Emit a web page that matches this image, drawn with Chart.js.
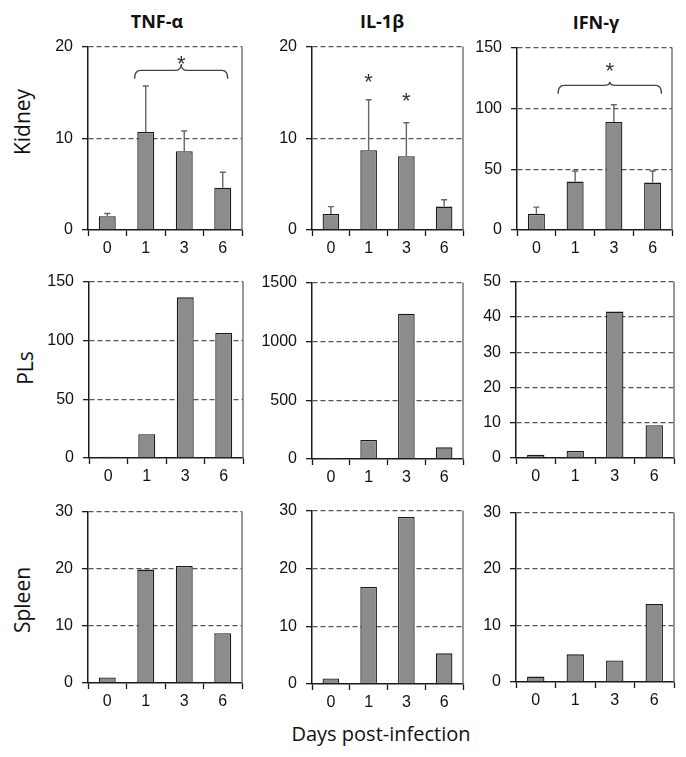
<!DOCTYPE html>
<html>
<head>
<meta charset="utf-8">
<title>Cytokine expression</title>
<script src="https://cdn.jsdelivr.net/npm/chart.js@4.4.1/dist/chart.umd.min.js"></script>
<style>
  html, body { margin: 0; padding: 0; background: #fff; }
  #page { position: relative; width: 686px; height: 757px; overflow: hidden; }
  .panel { position: absolute; }
  .lbl { position: absolute; transform: translate(-50%, -50%); white-space: nowrap;
         font-family: 'Open Sans', sans-serif; color: #111; }
  .col { font-weight: bold; font-size: 18px; }
  .row { font-size: 21px; transform: translate(-50%, -50%) rotate(-90deg); }
  .xt { font-size: 20px; }
</style>
</head>
<body>
<div id="page">
  <div class="lbl col" style="left:157px; top:21px;">TNF-α</div>
  <div class="lbl col" style="left:382px; top:21px;">IL-1β</div>
  <div class="lbl col" style="left:596px; top:22px;">IFN-γ</div>
  <div class="lbl row" style="left:22px; top:122px;">Kidney</div>
  <div class="lbl row" style="left:25px; top:368px;">PLs</div>
  <div class="lbl row" style="left:22px; top:600px;">Spleen</div>
  <div class="lbl xt" style="left:381px; top:733px;">Days post-infection</div>
</div>
<script>
// x categories
const days = ['0', '1', '3', '6'];

// Kidney (mean and upper error)
const kidneyTNF = [1.5, 10.7, 8.6, 4.6];
const kidneyTNFErr = [0.3, 5.0, 2.2, 1.7];
const kidneyIL1b = [1.75, 8.7, 8.05, 2.55];
const kidneyIL1bErr = [0.8, 5.5, 3.65, 0.75];
const kidneyIFNg = [13.3, 39.8, 88.9, 39.0];
const kidneyIFNgErr = [5.5, 8.7, 14.1, 9.5];

// PLs
const plsTNF = [1, 20.2, 136.6, 106.3];
const plsIL1b = [2, 162, 1236, 99];
const plsIFNg = [0.9, 2.0, 41.5, 9.3];

// Spleen
const spleenTNF = [0.96, 19.85, 20.5, 8.7];
const spleenIL1b = [0.94, 16.8, 28.9, 5.3];
const spleenIFNg = [0.96, 4.9, 3.8, 13.8];

// y axis ranges
const yMax = [20, 20, 150, 150, 1500, 50, 30, 30, 30];
const yStep = [10, 10, 50, 50, 500, 10, 10, 10, 10];

// significance marks (category index / value units)
const tnfBrace = { from: 0.71, to: 3.13, line: 17.4, end: 16.5, tip: 18.1 };
const tnfStars = [{ at: 1.92, value: 18.7 }];
const il1bStars = [{ at: 1, value: 16.7 }, { at: 2, value: 14.6 }];
const ifnBrace = { from: 0.56, to: 3.23, line: 119, end: 112, tip: 122 };
const ifnStars = [{ at: 1.9, value: 135 }];

// plot boxes: left, top, right, bottom
const panels = [
  { values: kidneyTNF, errs: kidneyTNFErr, box: [88, 40, 242, 230], brace: tnfBrace, stars: tnfStars },
  { values: kidneyIL1b, errs: kidneyIL1bErr, box: [312, 40, 463, 230], stars: il1bStars },
  { values: kidneyIFNg, errs: kidneyIFNgErr, box: [517, 41, 672, 230], brace: ifnBrace, stars: ifnStars },
  { values: plsTNF, box: [89, 275, 243, 458] },
  { values: plsIL1b, box: [312, 276, 463, 459] },
  { values: plsIFNg, box: [516, 275, 674, 458] },
  { values: spleenTNF, box: [88, 505, 242, 683] },
  { values: spleenIL1b, box: [312, 504, 463, 684] },
  { values: spleenIFNg, box: [516, 506, 674, 682] }
];

const PAD = { l: 60, t: 12, r: 10, b: 30 };
const tickFont = { family: "'Liberation Sans', Arial, sans-serif", size: 16 };

function makeAnnotPlugin(p) {
  return {
    id: 'annot',
    afterDatasetsDraw(chart) {
      const ctx = chart.ctx;
      const xs = chart.scales.x, ys = chart.scales.y;
      const area = chart.chartArea;
      ctx.save();
      // right frame line
      ctx.strokeStyle = '#777';
      ctx.lineWidth = 1.5;
      ctx.beginPath();
      ctx.moveTo(area.right, area.top);
      ctx.lineTo(area.right, area.bottom);
      ctx.stroke();

      // error bars (upper only)
      if (p.errs) {
        const meta = chart.getDatasetMeta(0);
        ctx.strokeStyle = '#666';
        ctx.lineWidth = 1.4;
        meta.data.forEach((bar, i) => {
          const yTop = ys.getPixelForValue(p.values[i] + p.errs[i]);
          ctx.beginPath();
          ctx.moveTo(bar.x, bar.y);
          ctx.lineTo(bar.x, yTop);
          ctx.moveTo(bar.x - 3, yTop);
          ctx.lineTo(bar.x + 3, yTop);
          ctx.stroke();
        });
      }

      // curly brace
      if (p.brace) {
        const b = p.brace;
        const x1 = xs.getPixelForValue(b.from), x2 = xs.getPixelForValue(b.to);
        const xm = (x1 + x2) / 2;
        const yl = ys.getPixelForValue(b.line), ye = ys.getPixelForValue(b.end), yt = ys.getPixelForValue(b.tip);
        const r = 6;
        ctx.strokeStyle = '#444';
        ctx.lineWidth = 1.3;
        ctx.beginPath();
        ctx.moveTo(x1, ye);
        ctx.quadraticCurveTo(x1, yl, x1 + r, yl);
        ctx.lineTo(xm - r, yl);
        ctx.quadraticCurveTo(xm, yl, xm, yt);
        ctx.quadraticCurveTo(xm, yl, xm + r, yl);
        ctx.lineTo(x2 - r, yl);
        ctx.quadraticCurveTo(x2, yl, x2, ye);
        ctx.stroke();
      }

      // stars
      if (p.stars) {
        ctx.fillStyle = '#333';
        ctx.font = "22px 'Liberation Sans', Arial, sans-serif";
        ctx.textAlign = 'center';
        ctx.textBaseline = 'alphabetic';
        p.stars.forEach(s => {
          let x = xs.getPixelForValue(s.at);
          if (p.brace && s.at % 1 !== 0) {
            x = (xs.getPixelForValue(p.brace.from) + xs.getPixelForValue(p.brace.to)) / 2;
          }
          ctx.fillText('*', x, ys.getPixelForValue(s.value) + 12);
        });
      }
      ctx.restore();
    }
  };
}

function makeChart(p, idx) {
  const page = document.getElementById('page');
  const w = p.box[2] - p.box[0], h = p.box[3] - p.box[1];
  const div = document.createElement('div');
  div.className = 'panel';
  div.style.left = (p.box[0] - PAD.l) + 'px';
  div.style.top = (p.box[1] - PAD.t) + 'px';
  const canvas = document.createElement('canvas');
  canvas.width = w + PAD.l + PAD.r;
  canvas.height = h + PAD.t + PAD.b;
  canvas.style.width = canvas.width + 'px';
  canvas.style.height = canvas.height + 'px';
  div.appendChild(canvas);
  page.appendChild(div);

  return new Chart(canvas.getContext('2d'), {
    type: 'bar',
    data: {
      labels: days,
      datasets: [{
        data: p.values,
        backgroundColor: '#8c8c8c',
        borderColor: '#1a1a1a',
        borderWidth: 1.3,
        barPercentage: 0.44,
        categoryPercentage: 1
      }]
    },
    options: {
      responsive: false,
      animation: false,
      devicePixelRatio: 1,
      layout: { padding: { left: 0, top: PAD.t, right: PAD.r, bottom: 0 } },
      plugins: { legend: { display: false }, tooltip: { enabled: false } },
      scales: {
        x: {
          grid: { display: true, drawOnChartArea: false, drawTicks: true, tickLength: 6,
                  tickColor: '#1a1a1a', tickWidth: 1.3, offset: true },
          border: { display: true, color: '#1a1a1a', width: 1.5 },
          ticks: { font: tickFont, color: '#111', padding: 3, maxRotation: 0 },
          afterFit(s) { s.height = PAD.b; }
        },
        y: {
          min: 0,
          max: yMax[idx],
          ticks: { stepSize: yStep[idx], font: tickFont, color: '#111', padding: 9,
                   callback: v => String(v) },
          grid: {
            color: c => (c.tick && c.tick.value === 0) ? 'rgba(0,0,0,0)' : '#555',
            lineWidth: 1.3, tickLength: 6, tickColor: '#1a1a1a', tickWidth: 1.3
          },
          border: { display: true, color: '#1a1a1a', width: 1.5, dash: [5, 3] },
          afterFit(s) { s.width = PAD.l; }
        }
      }
    },
    plugins: [makeAnnotPlugin(p)]
  });
}

panels.forEach((p, i) => makeChart(p, i));
</script>
</body>
</html>
